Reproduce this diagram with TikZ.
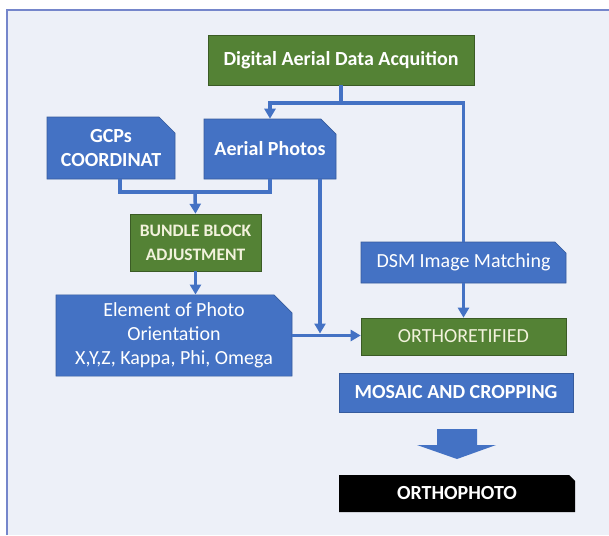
\documentclass[tikz,border=0pt]{standalone}
\usepackage{fontspec}
\setmainfont{Carlito}
\usetikzlibrary{arrows.meta,shapes.misc}
\definecolor{boxblue}{HTML}{4472C4}
\definecolor{boxgreen}{HTML}{548235}
\definecolor{panelbg}{HTML}{EDF0F8}
\definecolor{panelline}{HTML}{7586CB}
\definecolor{cream}{HTML}{F2F2DC}

\begin{document}
\begin{tikzpicture}[x={(1pt,0)},y={(0,-1pt)},
    every node/.style={font=\fontsize{20}{24}\selectfont, align=center, inner sep=0pt},
    bluebox/.style={fill=boxblue, draw=boxblue!80!black, line width=0.6pt, text=white},
    snipbox/.style={bluebox, chamfered rectangle, chamfered rectangle corners=north east,
                    chamfered rectangle xsep=8pt, chamfered rectangle ysep=8pt},
    greenbox/.style={fill=boxgreen, draw=boxgreen!70!black, line width=0.6pt, text=cream},
    conn/.style={draw=boxblue, line width=3.5pt},
    tri/.style={-{Triangle[width=11pt,length=10pt]}}]
    \useasboundingbox (0,0) rectangle (609,535);
    % Panel
    \fill[panelbg] (7,10) rectangle (609,535);
    \draw[panelline, line width=1.5pt] (7,535) -- (7,10) -- (609,10);
    % Boxes
    \node[greenbox, minimum width=266pt, minimum height=50pt, text=white] (dada) at (341,60) {\bfseries Digital Aerial Data Acquition};
    \node[snipbox, minimum width=128pt, minimum height=62pt] (gcp) at (111,148) {\bfseries GCPs\\\bfseries COORDINAT};
    \node[snipbox, minimum width=132pt, minimum height=60pt] (aerial) at (270,149) {\bfseries Aerial Photos};
    \node[greenbox, minimum width=131pt, minimum height=57pt] (bundle) at (195.5,242.5) {\fontsize{17.5}{21}\selectfont\bfseries BUNDLE BLOCK\\\fontsize{17.5}{21}\selectfont\bfseries ADJUSTMENT};
    \node[snipbox, minimum width=236pt, minimum height=73pt, chamfered rectangle xsep=10pt] (element) at (174,335.5) {Element of Photo\\Orientation\\X,Y,Z, Kappa, Phi, Omega};
    \node[snipbox, minimum width=205pt, minimum height=41pt, chamfered rectangle xsep=5pt, chamfered rectangle ysep=6pt] (dsm) at (463.5,262.5) {DSM Image Matching};
    \node[greenbox, minimum width=205pt, minimum height=37pt] (ortho) at (463.5,336.5) {ORTHORETIFIED};
    \node[bluebox, minimum width=234pt, minimum height=39pt] (mosaic) at (456,392.5) {\bfseries MOSAIC AND CROPPING};
    \node[fill=black, text=white, chamfered rectangle, chamfered rectangle corners=north east,
          chamfered rectangle xsep=3pt, chamfered rectangle ysep=3pt,
          minimum width=236pt, minimum height=37pt] (photo) at (457,493.5) {\bfseries ORTHOPHOTO};
    % Connectors
    \coordinate (split) at (341,103);
    \coordinate (merge) at (195,192);
    \draw[conn] (dada.south) -- (split);
    \draw[conn,tri] (split) -| (aerial.north);
    \draw[conn] (split) -| (dsm.north);
    \draw[conn] ([xshift=9pt]gcp.south) |- (merge) -| (aerial.south);
    \draw[conn,tri] (merge) -- (bundle.north);
    \draw[conn,tri] (bundle.south) -- (bundle.south |- element.north);
    \draw[conn,tri] ([xshift=50pt]aerial.south) -- ([xshift=50pt,yshift=2pt]aerial.south |- element.east);
    \draw[conn,tri] (element.east) -- (ortho.west |- element.east);
    \draw[conn,tri] (dsm.south) -- (ortho.north);
    % Block arrow
    \fill[boxblue] (437,429) -- (477,429) -- (477,445) -- (496,445) -- (457,459)
        -- (417,445) -- (437,445) -- cycle;
\end{tikzpicture}
\end{document}
